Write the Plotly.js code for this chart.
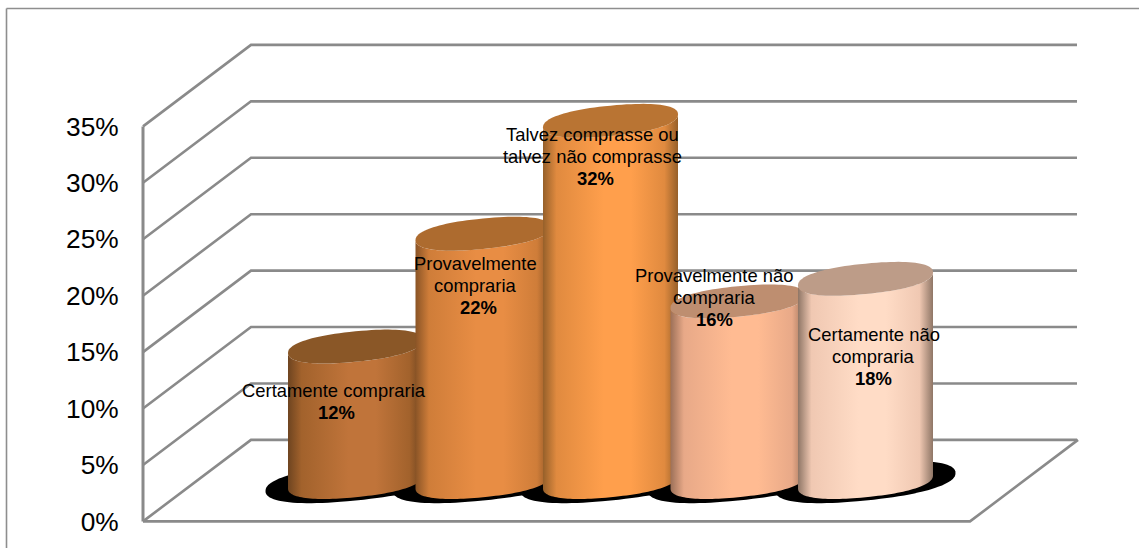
<!DOCTYPE html>
<html>
<head>
<meta charset="utf-8">
<script src="https://cdn.plot.ly/plotly-3.0.1.min.js"></script>
<style>html,body{margin:0;padding:0;background:#fff;overflow:hidden}</style>
</head>
<body>
<div id="chart" style="width:1139px;height:548px"></div>
<script>
// ---- data ----
const categories = ["Certamente compraria", "Provavelmente compraria", "Talvez comprasse ou talvez não comprasse", "Provavelmente não compraria", "Certamente não compraria"];
const values = [12, 22, 32, 16, 18];
const tickVals = [0, 5, 10, 15, 20, 25, 30, 35];
const tickLabels = ["0%", "5%", "10%", "15%", "20%", "25%", "30%", "35%"];
const labelLines = [
  ["Certamente compraria"],
  ["Provavelmente", "compraria"],
  ["Talvez comprasse ou", "talvez não comprasse"],
  ["Provavelmente não", "compraria"],
  ["Certamente não", "compraria"]
];

// ---- styles / geometry ----
const W = 1139, H = 548;
const PX_X = 127.5, PX_Y = 395 / 35;          // px per category, px per percent
const X0 = 355.5, Y0 = 521.4;                 // px of category 0, px of 0%
const xRange = [(0 - X0) / PX_X, (W - X0) / PX_X];
const yRange = [(Y0 - H) / PX_Y, Y0 / PX_Y];
const depthX = 108 / PX_X, depthY = 81.5 / PX_Y;
const frontX = (143 - X0) / PX_X, floorRightFront = (970 - X0) / PX_X;
const baseV = (Y0 - 482) / PX_Y;
const ax = 67.5 / PX_X, shearV = 6.5 / PX_Y, bV = 15.2 / PX_Y;
const shAx = 90 / PX_X, shShear = 9 / PX_Y, shB = 18.5 / PX_Y;
const GRID = "#8a8a8a";
const palette = [
  {edge:"#6e4420", mid:"#a2622c", peak:"#c0743a", top:"#8a5727"},
  {edge:"#8a5426", mid:"#cf7d39", peak:"#e88d44", top:"#ad6b2f"},
  {edge:"#96602a", mid:"#e08a3f", peak:"#ff9f4c", top:"#b97433"},
  {edge:"#9c7058", mid:"#e8a988", peak:"#ffbb92", top:"#be8e70"},
  {edge:"#8f7666", mid:"#f0c8b2", peak:"#ffdcc6", top:"#bd9c88"}
];
const labelDx = [-22, -8, -18, -24, 8];       // px offset of the label from the cylinder centre
const pctDx = [3, 3, 3, 0, 0];                // extra px offset of the bold percent line
const labelPctY = [412, 307, 178, 319, 378];  // px of the bold percent line
const LINE = 21.7;

function arc(cx, cy, a, s, b, t0, t1, n) {
  const xs = [], ys = [];
  const r = u => Math.sign(u) * Math.pow(Math.abs(u), 0.88);   // slightly squarer than an ellipse
  for (let i = 0; i <= n; i++) {
    const t = t0 + (t1 - t0) * i / n;
    const c = r(Math.cos(t)), d = r(Math.sin(t));
    xs.push(cx + a * c);
    ys.push(cy + s * c + b * d);
  }
  return [xs, ys];
}
const base = {type: "scatter", hoverinfo: "skip", showlegend: false, cliponaxis: false};
const traces = [];

// walls
tickVals.forEach(v => {
  traces.push({...base, mode: "lines", x: [frontX, frontX + depthX, frontX + depthX + (1077 - 251) / PX_X],
    y: [v, v + depthY, v + depthY], line: {color: GRID, width: 2.6, simplify: false}});
});
// floor edge and axis
traces.push({...base, mode: "lines", x: [frontX, floorRightFront, floorRightFront + depthX], y: [0, 0, depthY],
  line: {color: GRID, width: 2.6}});
traces.push({...base, mode: "lines", x: [frontX, frontX], y: [0, 35], line: {color: GRID, width: 3}});

// shadows
values.forEach((v, i) => {
  const [xs, ys] = arc(i, baseV, shAx, shShear, shB, 0, 2 * Math.PI, 96);
  traces.push({...base, mode: "none", x: xs, y: ys, fill: "toself", fillcolor: "#000"});
});
// cylinders
values.forEach((v, i) => {
  const p = palette[i], topV = baseV + v;
  const [tx, ty] = arc(i, topV, ax, shearV, bV, Math.PI, 2 * Math.PI, 64);
  const [bx, by] = arc(i, baseV, ax, shearV, bV, 2 * Math.PI, Math.PI, 64);
  traces.push({...base, mode: "none", name: categories[i], x: tx.concat(bx), y: ty.concat(by), fill: "toself",
    fillgradient: {type: "horizontal", colorscale: [[0, p.edge], [0.1, p.mid], [0.45, p.peak], [0.65, p.peak], [0.9, p.mid], [1, p.edge]]}});
  const [ex, ey] = arc(i, topV, ax, shearV, bV, 0, 2 * Math.PI, 96);
  traces.push({...base, mode: "none", x: ex, y: ey, fill: "toself", fillcolor: p.top});
});

// data labels, one annotation per text line
const annotations = [];
values.forEach((v, i) => {
  const lines = labelLines[i].concat(["<b>" + v + "%</b>"]);
  lines.forEach((txt, k) => {
    const isPct = k === lines.length - 1;
    const px = labelPctY[i] - (lines.length - 1 - k) * LINE;
    annotations.push({x: i + (labelDx[i] + (isPct ? pctDx[i] : 0)) / PX_X, y: (Y0 - px) / PX_Y, xref: "x", yref: "y", text: txt,
      showarrow: false, xanchor: "center", yanchor: "middle",
      font: {family: "Liberation Sans, Arial, sans-serif", size: 18.4, color: "#000"}});
  });
});

const layout = {
  width: W, height: H, margin: {l: 0, r: 0, t: 0, b: 0},
  paper_bgcolor: "#fff", plot_bgcolor: "#fff", showlegend: false,
  xaxis: {range: xRange, visible: false, fixedrange: true},
  yaxis: {range: yRange, anchor: "free", position: 143 / W, tickmode: "array", tickvals: tickVals, ticktext: tickLabels,
    showgrid: false, zeroline: false, showline: false, ticks: "outside", ticklen: 19, tickcolor: "rgba(0,0,0,0)",
    tickfont: {family: "Liberation Sans, Arial, sans-serif", size: 26.3, color: "#000"}, fixedrange: true},
  annotations,
  shapes: [
    {type: "line", xref: "paper", yref: "paper", x0: 6.5 / W, x1: 6.5 / W, y0: 0, y1: 1 - 8.5 / H, line: {color: "#8e8e8e", width: 1.6}},
    {type: "line", xref: "paper", yref: "paper", x0: 6.5 / W, x1: 1, y0: 1 - 8.5 / H, y1: 1 - 8.5 / H, line: {color: "#8e8e8e", width: 1.6}}
  ]
};
Plotly.newPlot("chart", traces, layout, {displayModeBar: false, staticPlot: true});
</script>
</body>
</html>
